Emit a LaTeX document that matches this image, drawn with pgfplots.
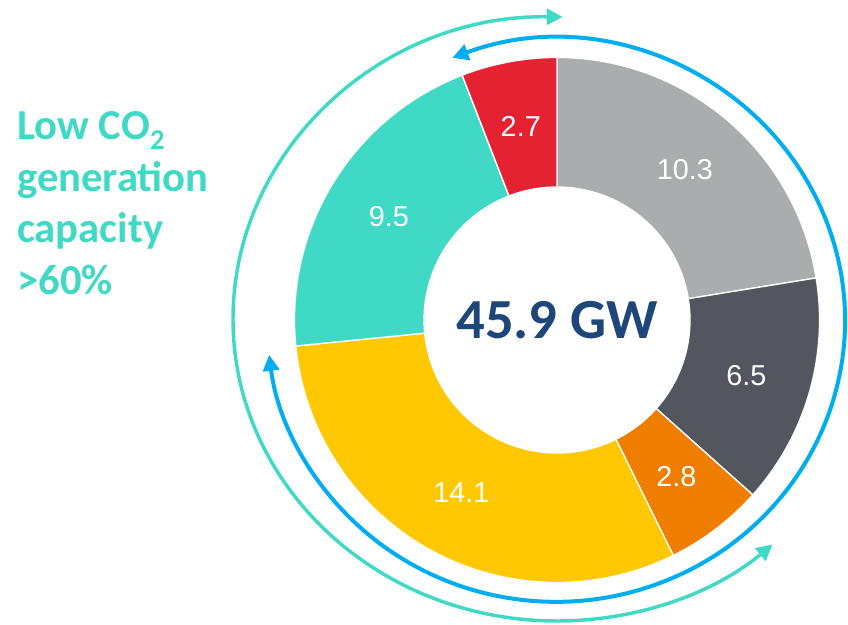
\documentclass[border=0pt]{standalone}
\usepackage{pgfplots}
\pgfplotsset{compat=1.18}
\usepackage{pgfplotstable}
\usepackage{fontspec}
\setmainfont{Liberation Sans}
\newfontfamily\calibri{Carlito}
\usetikzlibrary{arrows.meta}

\definecolor{cgray}{HTML}{ABACAE}
\definecolor{cdark}{HTML}{53565E}
\definecolor{corange}{HTML}{EE7D00}
\definecolor{cyellow}{HTML}{FFC800}
\definecolor{cteal}{HTML}{40D9C5}
\definecolor{cred}{HTML}{E42232}
\definecolor{cblue}{HTML}{00AEEF}
\definecolor{cnavy}{HTML}{1F4678}

% capacity by source, GW, clockwise from 12 o'clock
\pgfplotstableread{
value col
10.3 cgray
6.5 cdark
2.8 corange
14.1 cyellow
9.5 cteal
2.7 cred
}\donut

\begin{document}
\begin{tikzpicture}
\pgfplotstablegetrowsof{\donut}
\pgfmathtruncatemacro\last{\pgfplotsretval-1}
\def\total{0}
\pgfplotsforeachungrouped \i in {0,...,\last}{%
  \pgfplotstablegetelem{\i}{value}\of\donut
  \pgfmathsetmacro\total{\total+\pgfplotsretval}}
\begin{axis}[
  x=0.75pt, y=0.75pt,
  xmin=0, xmax=848, ymin=0, ymax=624,
  hide axis, clip=false,
]
% the page: arcs below are kept out of the bounding box (bezier overshoot)
\path (axis cs:0,0) rectangle (axis cs:848,624);
\def\cum{0}
\pgfplotsforeachungrouped \i in {0,...,\last}{%
  \pgfplotstablegetelem{\i}{value}\of\donut \let\v\pgfplotsretval
  \pgfplotstablegetelem{\i}{col}\of\donut \let\c\pgfplotsretval
  \pgfmathsetmacro\a{90-\cum/\total*360}
  \pgfmathsetmacro\b{90-(\cum+\v)/\total*360}
  \pgfmathsetmacro\m{(\a+\b)/2}
  \edef\temp{%
    \noexpand\fill[overlay, \c, draw=white, line width=1pt, shift={(axis cs:557,304)}]
      (\a:196.9pt) arc[start angle=\a, end angle=\b, radius=196.9pt]
      -- (\b:99.75pt) arc[start angle=\b, end angle=\a, radius=99.75pt] -- cycle;
    \noexpand\node[overlay, text=white, font=\noexpand\fontsize{21.6}{24}\noexpand\selectfont,
      shift={(axis cs:557,304)}] at (\m:148pt) {\v};
  }\temp
  \pgfmathsetmacro\cum{\cum+\v}
}

% arrows round the ring
\draw[overlay, cblue, line width=3pt, {Triangle[length=12pt,width=12pt]}-{Triangle[length=12pt,width=12pt]}]
  (axis cs:556,303.5) ++(111:216.75pt and 211pt)
  arc[start angle=111, end angle=-173, x radius=216.75pt, y radius=211pt];
\draw[overlay, cteal, line width=2.6pt, {Triangle[length=12pt,width=12pt]}-{Triangle[length=12pt,width=12pt]}]
  (axis cs:557,305) ++(89:243pt and 226.5pt)
  arc[start angle=89, end angle=311.7, x radius=243pt, y radius=226.5pt];

\node[overlay, text=cnavy, font=\calibri\bfseries\fontsize{42.5}{46}\selectfont] at (axis cs:557,304) {45.9 GW};

\node[overlay, anchor=base west, text=cteal, font=\calibri\bfseries\fontsize{32}{36}\selectfont, inner sep=0pt]
  at (axis cs:17,484) {Low CO\raisebox{-7.5pt}{\fontsize{21.5}{21.5}\selectfont 2}};
\node[overlay, anchor=base west, text=cteal, font=\calibri\bfseries\fontsize{32}{36}\selectfont, inner sep=0pt]
  at (axis cs:17,432) {generation};
\node[overlay, anchor=base west, text=cteal, font=\calibri\bfseries\fontsize{32}{36}\selectfont, inner sep=0pt]
  at (axis cs:17,381) {capacity};
\node[overlay, anchor=base west, text=cteal, font=\calibri\bfseries\fontsize{32}{36}\selectfont, inner sep=0pt]
  at (axis cs:17,329) {>60\%};
\end{axis}
\end{tikzpicture}
\end{document}
